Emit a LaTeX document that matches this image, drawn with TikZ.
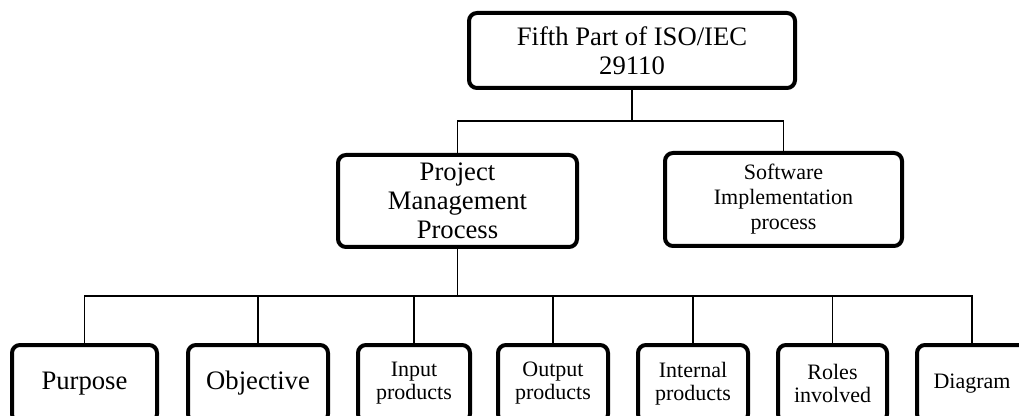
\documentclass[tikz,border=0pt]{standalone}
\usepackage{fontspec}
\setmainfont{Liberation Serif}
\begin{document}
\begin{tikzpicture}[x=0.75pt,y=-0.75pt,
  box/.style={draw=black,line width=3pt,rounded corners=6pt,inner sep=0pt,align=center,fill=white},
  big/.style={font=\fontsize{20}{21.8}\selectfont},
  mid/.style={font=\fontsize{16.5}{18.8}\selectfont},
  small/.style={font=\fontsize{16.5}{17.3}\selectfont},
  conn/.style={draw=black,line width=1pt}]
\useasboundingbox (0,0) rectangle (1019,416);
\clip (0,0) rectangle (1019,416);
\coordinate (bus1) at (0,121);
\coordinate (bus2) at (0,296);
% nodes
\node[box,big,minimum width=326*0.75pt,minimum height=75*0.75pt] (top) at (632,50.5) {Fifth Part of ISO/IEC\\29110};
\node[box,big,minimum width=239*0.75pt,minimum height=92*0.75pt] (pm) at (457.5,201) {Project\\Management\\Process};
\node[box,mid,minimum width=237*0.75pt,minimum height=93*0.75pt] (sw) at (783.5,199.5) {Software\\Implementation\\process};
\node[box,big,minimum width=145*0.75pt,minimum height=77*0.75pt] (purpose) at (84.5,383.5) {Purpose};
\node[box,big,minimum width=140*0.75pt,minimum height=77*0.75pt] (objective) at (258,383.5) {Objective};
\node[box,small,minimum width=112*0.75pt,minimum height=77*0.75pt] (input) at (414,383.5) {Input\\products};
\node[box,small,minimum width=110*0.75pt,minimum height=77*0.75pt] (output) at (553,383.5) {Output\\products};
\node[box,small,minimum width=110*0.75pt,minimum height=77*0.75pt] (internal) at (693,383.5) {Internal\\products};
\node[box,small,minimum width=109*0.75pt,minimum height=77*0.75pt] (roles) at (832.5,383.5) {Roles\\involved};
\node[box,small,minimum width=110*0.75pt,minimum height=77*0.75pt] (diagram) at (972,383.5) {Diagram};
% connectors
\draw[conn] (top.south) -- (top.south |- bus1);
\draw[conn] (pm.north) -- (pm.north |- bus1) -- (sw.north |- bus1) -- (sw.north);
\draw[conn] (pm.south) -- (pm.south |- bus2);
\draw[conn] (purpose.north) -- (purpose.north |- bus2) -- (diagram.north |- bus2) -- (diagram.north);
\foreach \n in {objective,input,output,internal,roles}
  \draw[conn] (\n.north) -- (\n.north |- bus2);
\end{tikzpicture}
\end{document}
